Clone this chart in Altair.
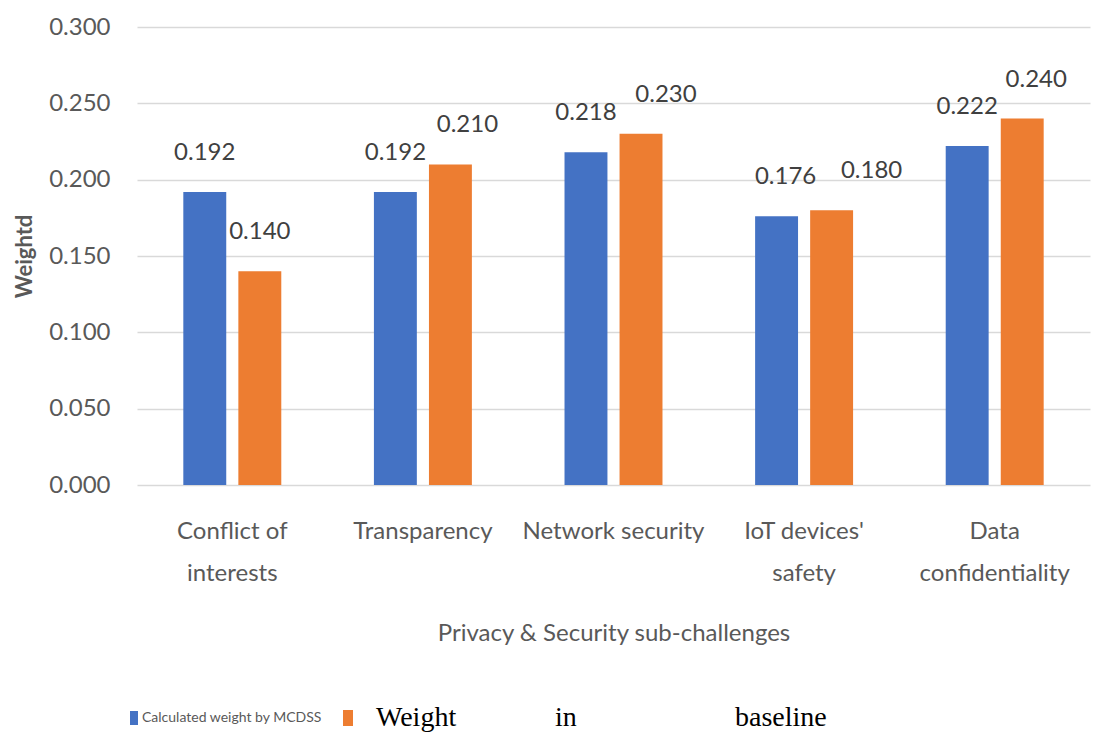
import altair as alt
import pandas as pd

categories = ["Conflict of|interests", "Transparency", "Network security",
              "IoT devices'|safety", "Data|confidentiality"]
series_names = ["Calculated weight  by MCDSS", "Weight in baseline"]
mcdss = [0.192, 0.192, 0.218, 0.176, 0.222]
baseline = [0.140, 0.210, 0.230, 0.180, 0.240]
colors = ["#4472C4", "#ED7D31"]

# horizontal nudges (px) of the value labels, as placed in the reference
nudge_mcdss = [0, 0, 0, 9, 0]
nudge_baseline = [0, 17, 25, 40, 14]

rows = []
for c, a, b in zip(categories, mcdss, baseline):
    rows.append({"cat": c, "series": series_names[0], "value": a})
    rows.append({"cat": c, "series": series_names[1], "value": b})
df = pd.DataFrame(rows)

FONT = "Lato"
GRAY = "#595959"

x = alt.X("cat:N", sort=categories,
          scale=alt.Scale(paddingInner=0.486, paddingOuter=0.243),
          axis=alt.Axis(title="Privacy & Security sub-challenges", labelAngle=0,
                        labelExpr="split(datum.label, '|')",
                        labelLineHeight=42, labelPadding=34, labelLimit=0,
                        labelFont=FONT, labelFontSize=24, labelColor=GRAY,
                        titleFont=FONT, titleFontSize=24, titleColor=GRAY,
                        titleFontWeight="normal", titlePadding=36,
                        domain=False, ticks=False, grid=False))
xo = alt.XOffset("series:N", sort=series_names,
                 scale=alt.Scale(paddingInner=0.22, paddingOuter=0))
y = alt.Y("value:Q",
          scale=alt.Scale(domain=[0, 0.3], nice=False),
          axis=alt.Axis(title="Weightd", values=[0, 0.05, 0.1, 0.15, 0.2, 0.25, 0.3],
                        format=".3f", labelPadding=27,
                        labelFont=FONT, labelFontSize=24, labelColor=GRAY,
                        titleFont=FONT, titleFontSize=22, titleColor=GRAY,
                        titleFontWeight="bold", titlePadding=12,
                        domain=False, ticks=False,
                        gridColor="#D9D9D9", gridWidth=1.5))
color = alt.Color("series:N", sort=series_names,
                  scale=alt.Scale(domain=series_names, range=colors), legend=None)

base = alt.Chart(df)
bars = base.mark_bar().encode(x=x, xOffset=xo, y=y, color=color)

label_layers = []
for s, nudges in zip(series_names, [nudge_mcdss, nudge_baseline]):
    for c, n in zip(categories, nudges):
        label_layers.append(
            base.transform_filter(
                (alt.datum.cat == c) & (alt.datum.series == s)
            ).mark_text(font=FONT, fontSize=24, color="#404040",
                        baseline="middle", dy=-39, dx=n).encode(
                x=x, xOffset=xo, y=y, text=alt.Text("value:Q", format=".3f"))
        )

one = alt.Data(values=[{"k": 1}])
LY = 691
leg_blue = alt.Chart(one).mark_rect(color=colors[0]).encode(
    x=alt.value(-7), x2=alt.value(1), y=alt.value(LY - 7), y2=alt.value(LY + 7))
leg_blue_t = alt.Chart(one).mark_text(font=FONT, fontSize=14, color=GRAY,
                                      align="left", baseline="middle").encode(
    x=alt.value(5), y=alt.value(LY), text=alt.value(series_names[0]))
leg_orange = alt.Chart(one).mark_rect(color=colors[1]).encode(
    x=alt.value(206), x2=alt.value(216), y=alt.value(LY - 8), y2=alt.value(LY + 8))
leg_words = ["Weight", "in", "baseline"]
leg_o_texts = [
    alt.Chart(one).mark_text(font="Liberation Serif", fontSize=28, color="#000000",
                             align="left", baseline="middle").encode(
        x=alt.value(xp), y=alt.value(LY), text=alt.value(w))
    for w, xp in zip(leg_words, [239, 418, 598])
]

chart = alt.layer(bars, *label_layers, leg_blue, leg_blue_t, leg_orange, *leg_o_texts).properties(
    width=953, height=458,
    background="white",
    autosize=alt.AutoSizeParams(type="none"),
    padding={"left": 137, "top": 27, "right": 9, "bottom": 266},
).configure_view(stroke=None)

chart.save("out.html", embed_options={"renderer": "svg", "actions": False})
